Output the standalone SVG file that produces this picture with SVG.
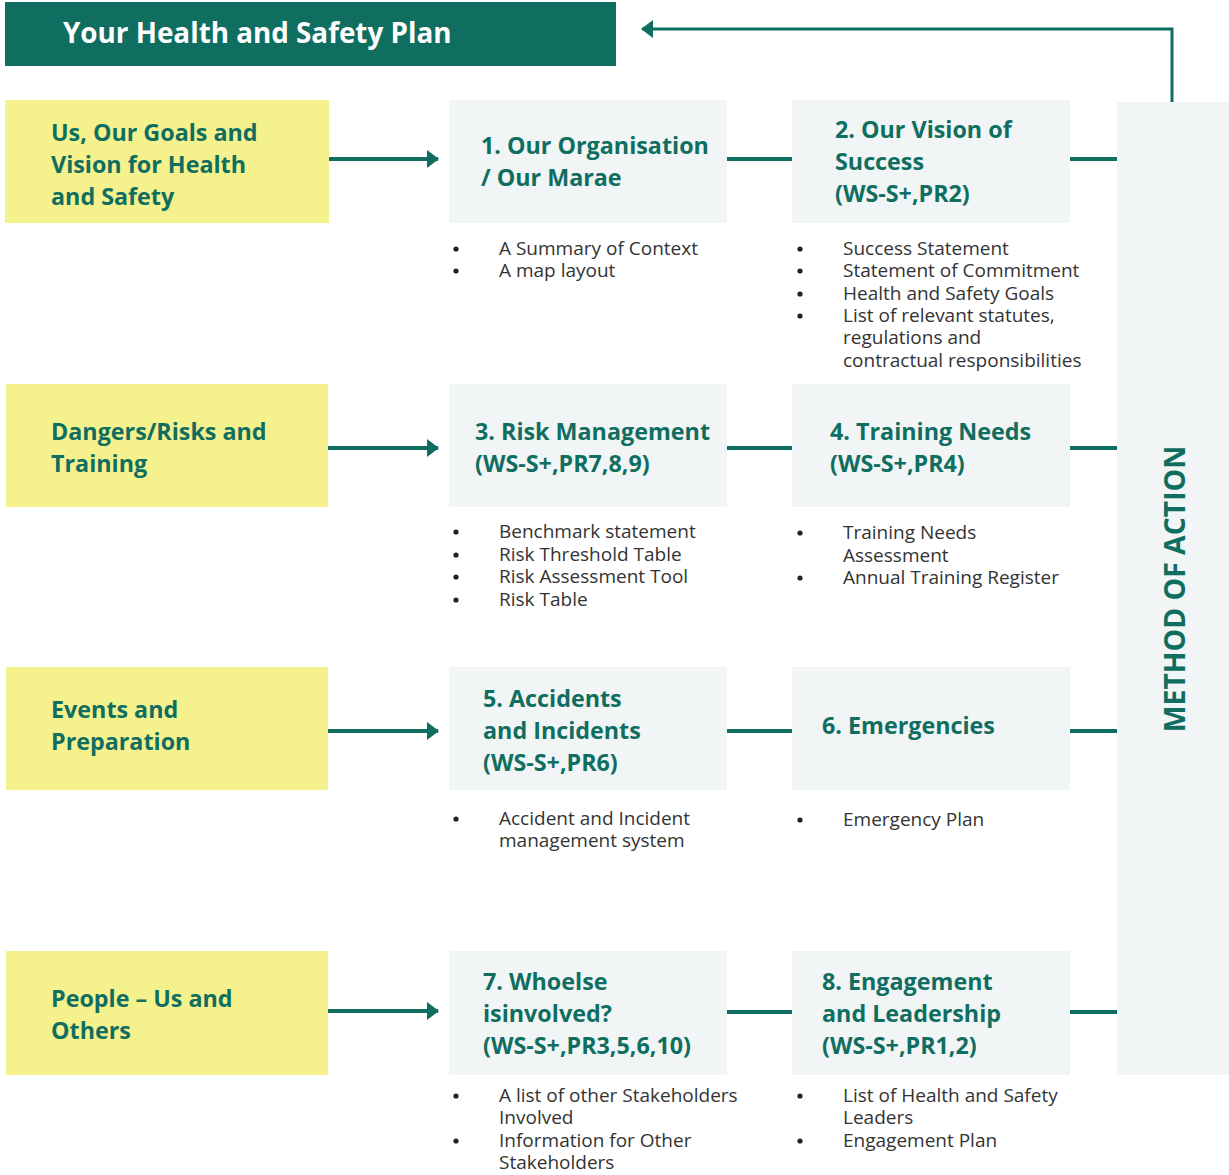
<svg xmlns="http://www.w3.org/2000/svg" width="1229" height="1175" viewBox="0 0 1229 1175">
<style>
.yel{fill:#f5f18d}
.box{fill:#f1f5f5}
.h{font-family:"Open Sans","DejaVu Sans",sans-serif;font-weight:700;font-size:23.3px;fill:#0f6e60}
.b{font-family:"Open Sans","DejaVu Sans",sans-serif;font-size:19px;fill:#333333}
.dot{fill:#222222}
.ln{stroke:#0f6e60;stroke-width:4;fill:none}
</style>
<defs>
<marker id="ah" viewBox="0 0 12 18" refX="11" refY="9" markerWidth="12" markerHeight="18" markerUnits="userSpaceOnUse" orient="auto">
<path d="M0,0 L12,9 L0,18 Z" fill="#0f6e60"/>
</marker>
</defs>
<rect width="1229" height="1175" fill="#ffffff"/>
<g id="header">
<rect x="5" y="2" width="611" height="64" fill="#0f6e60"/>
<text x="63" y="43" font-family="'Open Sans','DejaVu Sans',sans-serif" font-weight="700" font-size="27.8" fill="#ffffff">Your Health and Safety Plan</text>
</g>
<g id="method">
<rect x="1117" y="102" width="112" height="973" class="box"/>
<text transform="translate(1185,589) rotate(-90)" text-anchor="middle" font-family="'Open Sans','DejaVu Sans',sans-serif" font-weight="700" font-size="28.4" fill="#0f6e60">METHOD OF ACTION</text>
</g>
<g id="connectors">
<line x1="329" y1="159" x2="438" y2="159" class="ln" marker-end="url(#ah)"/>
<line x1="328" y1="448" x2="438" y2="448" class="ln" marker-end="url(#ah)"/>
<line x1="328" y1="731" x2="438" y2="731" class="ln" marker-end="url(#ah)"/>
<line x1="328" y1="1011" x2="438" y2="1011" class="ln" marker-end="url(#ah)"/>
<line x1="727" y1="159" x2="792" y2="159" class="ln"/>
<line x1="727" y1="448" x2="792" y2="448" class="ln"/>
<line x1="727" y1="731" x2="792" y2="731" class="ln"/>
<line x1="727" y1="1012" x2="792" y2="1012" class="ln"/>
<line x1="1070" y1="159" x2="1117" y2="159" class="ln"/>
<line x1="1070" y1="448" x2="1117" y2="448" class="ln"/>
<line x1="1070" y1="731" x2="1117" y2="731" class="ln"/>
<line x1="1070" y1="1012" x2="1117" y2="1012" class="ln"/>
<polyline points="1172,102 1172,29 642,29" stroke="#0f6e60" stroke-width="3" fill="none" marker-end="url(#ah)"/>
</g>
<g id="left1"><rect x="5" y="100" width="324" height="123" class="yel"/>
<text class="h" x="51" y="141">Us, Our Goals and</text><text class="h" x="51" y="173">Vision for Health</text><text class="h" x="51" y="205">and Safety</text></g>
<g id="left2"><rect x="6" y="384" width="322" height="123" class="yel"/>
<text class="h" x="51" y="440">Dangers/Risks and</text><text class="h" x="51" y="472">Training</text></g>
<g id="left3"><rect x="6" y="667" width="322" height="123" class="yel"/>
<text class="h" x="51" y="718">Events and</text><text class="h" x="51" y="750">Preparation</text></g>
<g id="left4"><rect x="6" y="951" width="322" height="124" class="yel"/>
<text class="h" x="51" y="1007">People – Us and</text><text class="h" x="51" y="1039">Others</text></g>
<g id="n1"><rect x="449" y="100" width="278" height="123" class="box"/>
<text class="h" x="481" y="154">1. Our Organisation</text><text class="h" x="481" y="186">/ Our Marae</text>
<circle class="dot" cx="456" cy="249" r="2.6"/><text class="b" x="499" y="255">A Summary of Context</text>
<circle class="dot" cx="456" cy="271" r="2.6"/><text class="b" x="499" y="277">A map layout</text></g>
<g id="n2"><rect x="792" y="100" width="278" height="123" class="box"/>
<text class="h" x="835" y="138">2. Our Vision of</text><text class="h" x="835" y="170">Success</text><text class="h" x="835" y="202">(WS-S+,PR2)</text>
<circle class="dot" cx="800" cy="249" r="2.6"/><text class="b" x="843" y="255">Success Statement</text>
<circle class="dot" cx="800" cy="271" r="2.6"/><text class="b" x="843" y="277">Statement of Commitment</text>
<circle class="dot" cx="800" cy="294" r="2.6"/><text class="b" x="843" y="300">Health and Safety Goals</text>
<circle class="dot" cx="800" cy="316" r="2.6"/><text class="b" x="843" y="322">List of relevant statutes,</text>
<text class="b" x="843" y="344">regulations and</text>
<text class="b" x="843" y="367">contractual responsibilities</text></g>
<g id="n3"><rect x="449" y="384" width="278" height="123" class="box"/>
<text class="h" x="475" y="440">3. Risk Management</text><text class="h" x="475" y="472">(WS-S+,PR7,8,9)</text>
<circle class="dot" cx="456" cy="532" r="2.6"/><text class="b" x="499" y="538">Benchmark statement</text>
<circle class="dot" cx="456" cy="555" r="2.6"/><text class="b" x="499" y="561">Risk Threshold Table</text>
<circle class="dot" cx="456" cy="577" r="2.6"/><text class="b" x="499" y="583">Risk Assessment Tool</text>
<circle class="dot" cx="456" cy="600" r="2.6"/><text class="b" x="499" y="606">Risk Table</text></g>
<g id="n4"><rect x="792" y="384" width="278" height="123" class="box"/>
<text class="h" x="830" y="440">4. Training Needs</text><text class="h" x="830" y="472">(WS-S+,PR4)</text>
<circle class="dot" cx="800" cy="533" r="2.6"/><text class="b" x="843" y="539">Training Needs</text>
<text class="b" x="843" y="562">Assessment</text>
<circle class="dot" cx="800" cy="578" r="2.6"/><text class="b" x="843" y="584">Annual Training Register</text></g>
<g id="n5"><rect x="449" y="667" width="278" height="123" class="box"/>
<text class="h" x="483" y="707">5. Accidents</text><text class="h" x="483" y="739">and Incidents</text><text class="h" x="483" y="771">(WS-S+,PR6)</text>
<circle class="dot" cx="456" cy="819" r="2.6"/><text class="b" x="499" y="825">Accident and Incident</text>
<text class="b" x="499" y="847">management system</text></g>
<g id="n6"><rect x="792" y="667" width="278" height="123" class="box"/>
<text class="h" x="822" y="734">6. Emergencies</text>
<circle class="dot" cx="800" cy="820" r="2.6"/><text class="b" x="843" y="826">Emergency Plan</text></g>
<g id="n7"><rect x="449" y="951" width="278" height="124" class="box"/>
<text class="h" x="483" y="990">7. Whoelse</text><text class="h" x="483" y="1022">isinvolved?</text><text class="h" x="483" y="1054">(WS-S+,PR3,5,6,10)</text>
<circle class="dot" cx="456" cy="1096" r="2.6"/><text class="b" x="499" y="1102">A list of other Stakeholders</text>
<text class="b" x="499" y="1124">Involved</text>
<circle class="dot" cx="456" cy="1141" r="2.6"/><text class="b" x="499" y="1147">Information for Other</text>
<text class="b" x="499" y="1169">Stakeholders</text></g>
<g id="n8"><rect x="792" y="951" width="278" height="124" class="box"/>
<text class="h" x="822" y="990">8. Engagement</text><text class="h" x="822" y="1022">and Leadership</text><text class="h" x="822" y="1054">(WS-S+,PR1,2)</text>
<circle class="dot" cx="800" cy="1096" r="2.6"/><text class="b" x="843" y="1102">List of Health and Safety</text>
<text class="b" x="843" y="1124">Leaders</text>
<circle class="dot" cx="800" cy="1141" r="2.6"/><text class="b" x="843" y="1147">Engagement Plan</text></g>
</svg>
